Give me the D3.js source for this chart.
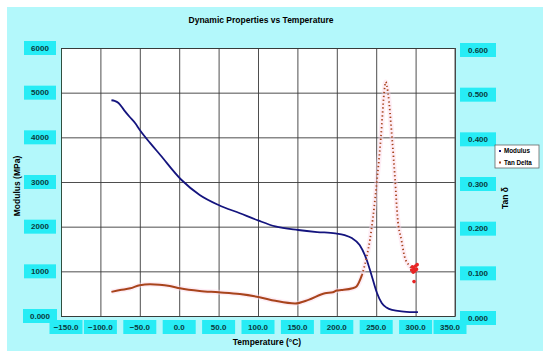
<!DOCTYPE html>
<html>
<head>
<meta charset="utf-8">
<script src="https://cdn.jsdelivr.net/npm/d3@7"></script>
<style>
  body { margin: 0; background: #ffffff; }
  svg { display: block; font-family: "Liberation Sans", Arial, sans-serif; }
</style>
</head>
<body>
<script>
// tick values
var xTicks = [-150, -100, -50, 0, 50, 100, 150, 200, 250, 300, 350];
var modTicks = [0, 1000, 2000, 3000, 4000, 5000, 6000];
var tanTicks = [0, 0.1, 0.2, 0.3, 0.4, 0.5, 0.6];

// modulus series (MPa)
var modTemp  = [-86, -82, -77, -70, -63, -56, -50, -37, -24, 3, 26, 50, 77, 100, 122, 151, 175, 198, 210, 219, 229, 238, 244, 251, 257, 263, 270, 285, 303];
var modValue = [4830, 4815, 4770, 4610, 4460, 4320, 4165, 3875, 3605, 3045, 2710, 2485, 2300, 2140, 2005, 1925, 1880, 1850, 1810, 1745, 1590, 1255, 920, 515, 290, 190, 135, 100, 85];

// tan delta series
var tanTemp  = [-86, -75, -62, -50, -37, -25, -12, 1, 26, 50, 77, 102, 122, 147, 164, 185, 195, 200, 206, 220, 225, 232, 238, 242, 246, 251, 256, 260, 262, 265, 270, 274, 277, 282, 286, 291, 295, 300, 303];
var tanValue = [0.054, 0.058, 0.062, 0.069, 0.071, 0.070, 0.067, 0.062, 0.056, 0.053, 0.049, 0.042, 0.034, 0.028, 0.036, 0.051, 0.053, 0.057, 0.058, 0.062, 0.066, 0.092, 0.133, 0.170, 0.222, 0.304, 0.401, 0.499, 0.524, 0.499, 0.401, 0.304, 0.222, 0.170, 0.133, 0.115, 0.107, 0.104, 0.110];

// noisy red points at the end of the tan delta run
var endTemp  = [295, 296, 297, 298, 299, 300, 301, 302, 298];
var endValue = [0.103, 0.110, 0.098, 0.106, 0.101, 0.112, 0.104, 0.115, 0.077];

var legendLabels = ["Modulus", "Tan Delta"];

var W = 550, H = 357;
var plot = {left: 61, top: 48, right: 455, bottom: 316};
var boxFill = "#27ecf5";
var modColor = "#14147e", tanColor = "#a8441c";

var svg = d3.select("body").append("svg")
    .attr("width", W)
    .attr("height", H);

// cyan panel
svg.append("rect")
    .attr("x", 7).attr("y", 7)
    .attr("width", 536).attr("height", 344)
    .attr("fill", "#b3f8fb");

// plot background
svg.append("rect")
    .attr("x", plot.left).attr("y", plot.top)
    .attr("width", plot.right - plot.left).attr("height", plot.bottom - plot.top)
    .attr("fill", "#ffffff");

// scales
var x = d3.scaleLinear().domain([-150, 350]).range([plot.left, plot.right]);
var yMod = d3.scaleLinear().domain([0, 6000]).range([plot.bottom, plot.top]);
var yTan = d3.scaleLinear().domain([0, 0.6]).range([plot.bottom, plot.top]);

// grid lines
var gridX = svg.append("g")
    .attr("transform", "translate(0," + plot.bottom + ")")
    .call(d3.axisBottom(x).tickValues(xTicks).tickSize(-(plot.bottom - plot.top)).tickFormat(""));
var gridY = svg.append("g")
    .attr("transform", "translate(" + plot.left + ",0)")
    .call(d3.axisLeft(yMod).tickValues(modTicks).tickSize(-(plot.right - plot.left)).tickFormat(""));
svg.selectAll(".tick line").attr("stroke", "#3a3a3a").attr("stroke-width", 0.9);
gridX.select(".domain").attr("stroke", "#555");
gridY.select(".domain").attr("stroke", "#2f4f3f");

// right axis line
svg.append("line")
    .attr("x1", plot.right).attr("x2", plot.right)
    .attr("y1", plot.top).attr("y2", plot.bottom)
    .attr("stroke", "#555");

// boxed tick labels
function boxedLabel(cx, cy, txt, w) {
    svg.append("rect")
        .attr("x", cx - w / 2).attr("y", cy - 7)
        .attr("width", w).attr("height", 14)
        .attr("fill", boxFill);
    svg.append("text")
        .attr("x", cx).attr("y", cy)
        .attr("dy", "0.35em")
        .attr("text-anchor", "middle")
        .style("font-size", "8px")
        .style("font-weight", "bold")
        .attr("fill", "#0a3a40")
        .text(txt);
}

xTicks.forEach(function(t, i) {
    var cx = x(t);
    if (i === 0) cx += 5;
    if (i === xTicks.length - 1) cx -= 5;
    boxedLabel(cx, 327, d3.format(".1f")(t), 33);
});
modTicks.forEach(function(t) {
    boxedLabel(40, yMod(t), t === 0 ? "0.000" : String(t), t === 0 ? 34 : 32);
});
tanTicks.forEach(function(t) {
    boxedLabel(478, yTan(t) + 2, d3.format(".3f")(t), 36);
});

// tan delta glow
var tanLine = d3.line()
    .x(function(d) { return x(d[0]); })
    .y(function(d) { return yTan(d[1]); })
    .curve(d3.curveMonotoneX);
var tanData = tanTemp.map(function(t, i) { return [t, tanValue[i]]; });

svg.append("path")
    .datum(tanData)
    .attr("fill", "none")
    .attr("stroke", "#fcd6e8")
    .attr("stroke-width", 5)
    .attr("opacity", 0.45)
    .attr("d", tanLine);

// modulus line
var modLine = d3.line()
    .x(function(d) { return x(d[0]); })
    .y(function(d) { return yMod(d[1]); })
    .curve(d3.curveMonotoneX);
svg.append("path")
    .datum(modTemp.map(function(t, i) { return [t, modValue[i]]; }))
    .attr("fill", "none")
    .attr("stroke", modColor)
    .attr("stroke-width", 1.8)
    .attr("d", modLine);

// tan delta: solid where points are dense, dotted on the steep peak
svg.append("path")
    .datum(tanData.filter(function(d) { return d[0] <= 232; }))
    .attr("fill", "none")
    .attr("stroke", tanColor)
    .attr("stroke-width", 2)
    .attr("d", tanLine);
svg.append("path")
    .datum(tanData.filter(function(d) { return d[0] >= 232; }))
    .attr("fill", "none")
    .attr("stroke", tanColor)
    .attr("stroke-width", 1.8)
    .attr("stroke-dasharray", "1.3 2.6")
    .attr("d", tanLine);

svg.selectAll(".endpt")
    .data(endTemp.map(function(t, i) { return [t, endValue[i]]; }))
    .enter().append("circle")
    .attr("cx", function(d) { return x(d[0]); })
    .attr("cy", function(d) { return yTan(d[1]); })
    .attr("r", 1.8)
    .attr("fill", "#e82424");

// title
svg.append("text")
    .attr("x", 261).attr("y", 20)
    .attr("dy", "0.35em")
    .attr("text-anchor", "middle")
    .style("font-size", "8.5px")
    .style("font-weight", "bold")
    .text("Dynamic Properties vs Temperature");

// axis titles
svg.append("text")
    .attr("x", 267).attr("y", 342)
    .attr("dy", "0.35em")
    .attr("text-anchor", "middle")
    .style("font-size", "8.5px")
    .style("font-weight", "bold")
    .text("Temperature (°C)");

svg.append("text")
    .attr("transform", "translate(17,186) rotate(-90)")
    .attr("dy", "0.35em")
    .attr("text-anchor", "middle")
    .style("font-size", "8.5px")
    .style("font-weight", "bold")
    .text("Modulus (MPa)");

svg.append("text")
    .attr("transform", "translate(505,198) rotate(-90)")
    .attr("dy", "0.35em")
    .attr("text-anchor", "middle")
    .style("font-size", "8.5px")
    .style("font-weight", "bold")
    .text("Tan δ");

// legend
var legend = svg.append("g").attr("transform", "translate(495,145)");
legend.append("rect")
    .attr("width", 44).attr("height", 23)
    .attr("fill", "#ffffff")
    .attr("stroke", "#666")
    .attr("stroke-width", 0.8);
legendLabels.forEach(function(lab, i) {
    var ly = 6 + i * 11.5;
    legend.append("rect")
        .attr("x", 4).attr("y", ly - 1)
        .attr("width", 2).attr("height", 2)
        .attr("fill", i === 0 ? modColor : tanColor);
    legend.append("text")
        .attr("x", 9).attr("y", ly)
        .attr("dy", "0.35em")
        .style("font-size", "6.3px")
        .style("font-weight", "bold")
        .text(lab);
});
</script>
</body>
</html>
